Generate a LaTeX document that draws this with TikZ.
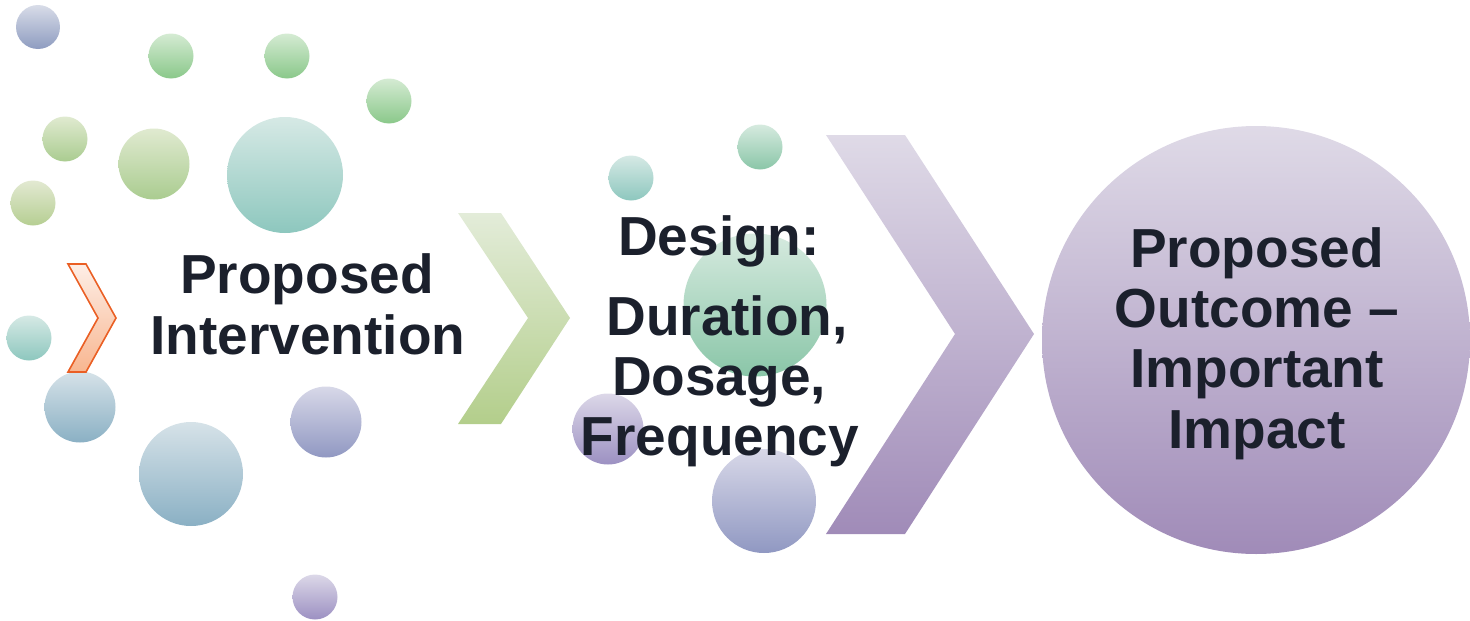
\documentclass[tikz,border=0pt]{standalone}
\usepackage{fontspec}
\setmainfont{Liberation Sans}
\definecolor{ink}{HTML}{1B202C}
\definecolor{bgA}{HTML}{D8DCE8}\definecolor{bgB}{HTML}{8E9CC0}
\definecolor{grA}{HTML}{D5EBD3}\definecolor{grB}{HTML}{8AC88A}
\definecolor{olA}{HTML}{E0EAD0}\definecolor{olB}{HTML}{AACC90}
\definecolor{ylA}{HTML}{E2E9D2}\definecolor{ylB}{HTML}{B6CE92}
\definecolor{tlA}{HTML}{D6E9E5}\definecolor{tlB}{HTML}{8DC7BE}
\definecolor{bsA}{HTML}{D6E2E8}\definecolor{bsB}{HTML}{8AB0C4}
\definecolor{pbA}{HTML}{D8D8E8}\definecolor{pbB}{HTML}{9098C2}
\definecolor{puA}{HTML}{DCD8E8}\definecolor{puB}{HTML}{9C90C2}
\definecolor{mgA}{HTML}{D6EADF}\definecolor{mgB}{HTML}{8AC6A8}
\definecolor{chA}{HTML}{E3ECD9}\definecolor{chB}{HTML}{B3CE8B}
\definecolor{vpA}{HTML}{DFDAE7}\definecolor{vpB}{HTML}{A08BB8}
\definecolor{orA}{HTML}{FDEEE6}\definecolor{orB}{HTML}{F8B690}
\definecolor{orL}{HTML}{EA5F24}
\begin{document}
\begin{tikzpicture}[x=1pt,y=-1pt,
  bub/.style={circle, inner sep=0pt, minimum size=#1, draw=none},
  lbl/.style={font=\fontsize{55}{60}\selectfont\bfseries, text=ink, anchor=base, inner sep=0pt}]
\useasboundingbox (0,0) rectangle (1470,621);
% bubbles
\node[bub=44, top color=bgA, bottom color=bgB] (b1) at (38,27) {};
\node[bub=45, top color=grA, bottom color=grB] (b2) at (171,56) {};
\node[bub=45, top color=grA, bottom color=grB] (b3) at (287,56) {};
\node[bub=45, top color=grA, bottom color=grB] (b4) at (389,101) {};
\node[bub=45, top color=olA, bottom color=olB] (b5) at (65,139) {};
\node[bub=71, top color=olA, bottom color=olB] (b6) at (154,164) {};
\node[bub=116, top color=tlA, bottom color=tlB] (b7) at (285,175) {};
\node[bub=45, top color=ylA, bottom color=ylB] (b8) at (33,203) {};
\node[bub=45, top color=tlA, bottom color=tlB] (b9) at (29,338) {};
\node[bub=71, top color=bsA, bottom color=bsB] (b10) at (80,407) {};
\node[bub=104, top color=bsA, bottom color=bsB] (b11) at (191,474) {};
\node[bub=71, top color=pbA, bottom color=pbB] (b12) at (326,422) {};
\node[bub=45, top color=puA, bottom color=puB] (b13) at (315,597) {};
\node[bub=45, top color=tlA, bottom color=tlB] (b14) at (631,178) {};
\node[bub=45, top color=mgA, bottom color=mgB] (b15) at (760,147) {};
\node[bub=143, top color=mgA, bottom color=mgB] (b16) at (755,305) {};
\node[bub=71, top color=puA, bottom color=puB] (b17) at (608,429) {};
\node[bub=104, top color=pbA, bottom color=pbB] (b18) at (764,501) {};
% chevrons
\path[top color=orA, bottom color=orB, draw=orL, line width=1.6pt, line join=miter]
  (68,264) -- (86,264) -- (116,318) -- (86,372) -- (68,372) -- (98,318) -- cycle;
\path[top color=chA, bottom color=chB]
  (458,213) -- (501,213) -- (570,318) -- (501,424) -- (458,424) -- (528,318) -- cycle;
\path[top color=vpA, bottom color=vpB]
  (826,135) -- (905,135) -- (1034,334) -- (905,534) -- (826,534) -- (955,334) -- cycle;
% outcome circle
\node[bub=428, top color=vpA, bottom color=vpB] (out) at (1256,340) {};
% texts
\node[lbl] (t1) at (307,293) {Proposed};
\node[lbl] (t2) at (308,354) {Intervention};
\node[lbl] (d1) at (719,255) {Design:};
\node[lbl] (d2) at (727,335) {Duration,};
\node[lbl] (d3) at (719,395) {Dosage,};
\node[lbl] (d4) at (720,455) {Frequency};
\node[lbl] (o1) at (1257,267) {Proposed};
\node[lbl] (o2) at (1257,327) {Outcome \textendash};
\node[lbl] (o3) at (1257,387) {Important};
\node[lbl] (o4) at (1257,448) {Impact};
\end{tikzpicture}
\end{document}
